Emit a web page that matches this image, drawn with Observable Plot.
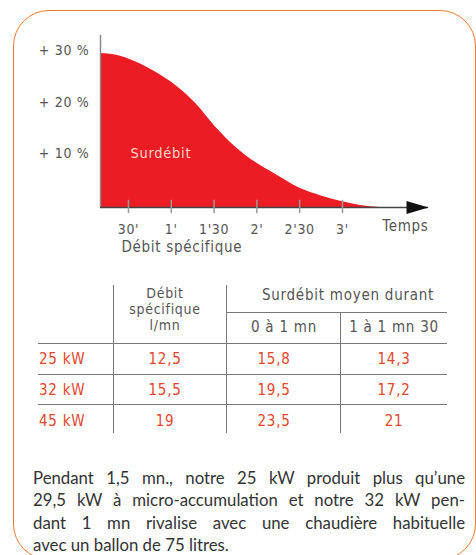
<!DOCTYPE html>
<html><head><meta charset="utf-8">
<script src="https://cdn.jsdelivr.net/npm/d3@7"></script>
<script src="https://cdn.jsdelivr.net/npm/@observablehq/plot@0.6"></script>
<style>
html,body{margin:0;padding:0;background:#fff;}
#page{position:relative;width:476px;height:555px;overflow:hidden;font-family:"DejaVu Sans Condensed",sans-serif;}
#chart{position:absolute;left:0;top:0;}
#frame{position:absolute;left:13px;top:10px;width:463px;height:550px;box-sizing:border-box;border:1.5px solid #f07a30;border-radius:36px;pointer-events:none;}
.t{position:absolute;transform:translate(-50%,-50%);white-space:nowrap;line-height:1;letter-spacing:0.05em;}
.hl{position:absolute;height:0;border-top:1.5px solid #777;}
.vl{position:absolute;width:0;border-left:1.5px solid #777;}
#caption{position:absolute;left:33px;top:467px;width:432px;font-family:Lato,"Open Sans",sans-serif;font-size:16.8px;line-height:22.4px;color:#333;}
#caption span{display:inline-block;white-space:nowrap;}
</style></head>
<body><div id="page"><div id="chart"></div><div id="table"></div><div id="caption"></div><div id="frame"></div></div>
<script>
// ---- data ----
const curveTime  = [10.4, 20.9, 34.9, 48.9, 62.9, 77.0, 91.0, 105.0, 119.0, 133.0, 150.6, 164.6, 178.6, 192.6, 206.6];
const curveValue = [30.0, 29.7, 28.4, 26.4, 23.8, 20.3, 15.7, 11.8, 8.8, 6.5, 3.7, 2.3, 1.2, 0.4, 0.0];
const yTicks = [10, 20, 30];
const xTickSecs = [30, 60, 90, 120, 150, 180];
const xTickLabels = ["30'", "1'", "1'30", "2'", "2'30", "3'"];
const xAxisTitle = "Temps";
const xAxisSub = "Débit spécifique";
const areaLabel = ["Surdébit"];
const areaLabelPos = [{t: 31.5, v: 10.6}];

const rowLabels = ["25 kW", "32 kW", "45 kW"];
const debitSpecifique = ["12,5", "15,5", "19"];
const surdebit0a1 = ["15,8", "19,5", "23,5"];
const surdebit1a130 = ["14,3", "17,2", "21"];
const headDebit = ["Débit", "spécifique", "l/mn"];
const headSurdebit = "Surdébit moyen durant";
const subHeads = ["0 à 1 mn", "1 à 1 mn 30"];

const captionLines = [
  "Pendant 1,5 mn., notre 25 kW produit plus qu’une",
  "29,5 kW à micro-accumulation et notre 32 kW pen-",
  "dant 1 mn rivalise avec une chaudière habituelle",
  "avec un ballon de 75 litres."
];

// ---- chart ----
const curve = curveTime.map((t, i) => ({t, v: curveValue[i]}));
const xDomain = [10.4, 240.3];
const arrowSymbol = {draw(ctx) { ctx.moveTo(0, 0); ctx.lineTo(-22, -6.5); ctx.lineTo(-22, 6.5); ctx.closePath(); }};
const font = '"DejaVu Sans Condensed",sans-serif';

const chart = Plot.plot({
  width: 476, height: 265,
  marginLeft: 100, marginRight: 48, marginTop: 35, marginBottom: 58,
  x: {domain: xDomain},
  y: {domain: [0, 33.5]},
  style: {background: "transparent", fontFamily: font, fontSize: "14px", color: "#555", letterSpacing: "0.05em"},
  marks: [
    Plot.areaY(curve, {x: "t", y: "v", fill: "#ec1c24", curve: "monotone-x"}),
    Plot.ruleX([xDomain[0]], {stroke: "#8a8a8a", strokeWidth: 1.5}),
    Plot.ruleY([0], {x1: xDomain[0], x2: xDomain[1], stroke: "#444", strokeWidth: 1.5}),
    Plot.ruleX(xTickSecs, {x: d => d, y1: -1.2, y2: 1.4, stroke: "#9a9a9a", strokeWidth: 1.5}),
    Plot.dot([xDomain[1]], {x: d => d, y: 0, symbol: arrowSymbol, fill: "#111", r: 5}),
    Plot.axisY(yTicks, {tickFormat: d => `+ ${d} %`, tickSize: 0, tickPadding: 11, label: null, fontSize: 14, dy: -2.5}),
    Plot.axisX(xTickSecs, {tickFormat: d => xTickLabels[xTickSecs.indexOf(d)], tickSize: 0, tickPadding: 17, label: null, fontSize: 14}),
    Plot.text([xAxisTitle], {frameAnchor: "bottom-right", text: d => d, dy: 23, textAnchor: "end", fontSize: 15, fill: "#555"}),
    Plot.text([xAxisSub], {frameAnchor: "bottom-left", text: d => d, dx: 21, dy: 44, textAnchor: "start", fontSize: 15, fill: "#555"}),
    Plot.text(areaLabelPos, {x: "t", y: "v", text: (d, i) => areaLabel[i], textAnchor: "start", fontSize: 14.5, fill: "#fbd6c6"})
  ]
});
document.getElementById("chart").appendChild(chart);

// ---- table ----
const L = {left: 38, right: 447, v1: 114, v2: 227, v3: 341, top: 285, bottom: 433,
  hSub: 312.7, hHead: 344, rowLines: [375, 405], rowY: [359, 390, 421],
  colX: [165, 274, 394], labelX: 39, headY: [293, 309, 325], surY: 295, subY: 327, surX: 348};
const tbl = document.getElementById("table");
function txt(s, x, y, style) {
  const d = document.createElement("div");
  d.className = "t"; d.textContent = s;
  d.style.left = x + "px"; d.style.top = y + "px";
  Object.assign(d.style, style || {});
  tbl.appendChild(d); return d;
}
function hline(x1, x2, y) { const d = document.createElement("div"); d.className = "hl"; d.style.left = x1 + "px"; d.style.width = (x2 - x1) + "px"; d.style.top = (y - 0.75) + "px"; tbl.appendChild(d); }
function vline(x, y1, y2) { const d = document.createElement("div"); d.className = "vl"; d.style.left = (x - 0.75) + "px"; d.style.top = y1 + "px"; d.style.height = (y2 - y1) + "px"; tbl.appendChild(d); }
vline(L.v1, L.top, L.bottom); vline(L.v2, L.top, L.bottom); vline(L.v3, L.hSub, L.bottom);
hline(L.v2, L.right, L.hSub); hline(L.left, L.right, L.hHead);
L.rowLines.forEach(y => hline(L.left, L.right, y));
const grey = {color: "#555", fontSize: "15px"};
const greySmall = {color: "#555", fontSize: "14px", lineHeight: "14px"};
headDebit.forEach((s, i) => txt(s, L.colX[0], L.headY[i], greySmall));
txt(headSurdebit, L.surX, L.surY, grey);
subHeads.forEach((s, i) => txt(s, [L.v2 + L.v3, L.v3 + L.right][i] / 2, L.subY, grey));
const red = {color: "#e4462a", fontSize: "15px"};
rowLabels.forEach((s, i) => {
  txt(s, L.labelX, L.rowY[i], Object.assign({transform: "translate(0,-50%)"}, red));
  txt(debitSpecifique[i], L.colX[0], L.rowY[i], red);
  txt(surdebit0a1[i], L.colX[1], L.rowY[i], red);
  txt(surdebit1a130[i], L.colX[2], L.rowY[i], red);
});

// ---- caption (justified lines, fitted by word spacing) ----
const cap = document.getElementById("caption");
const capWidth = 432;
captionLines.forEach((s, i) => {
  const row = document.createElement("div");
  const sp = document.createElement("span");
  sp.textContent = s;
  row.appendChild(sp); cap.appendChild(row);
  if (i < captionLines.length - 1) {
    const w = sp.getBoundingClientRect().width;
    const gaps = (s.match(/ /g) || []).length;
    sp.style.wordSpacing = ((capWidth - w) / gaps) + "px";
  }
});
</script></body></html>
